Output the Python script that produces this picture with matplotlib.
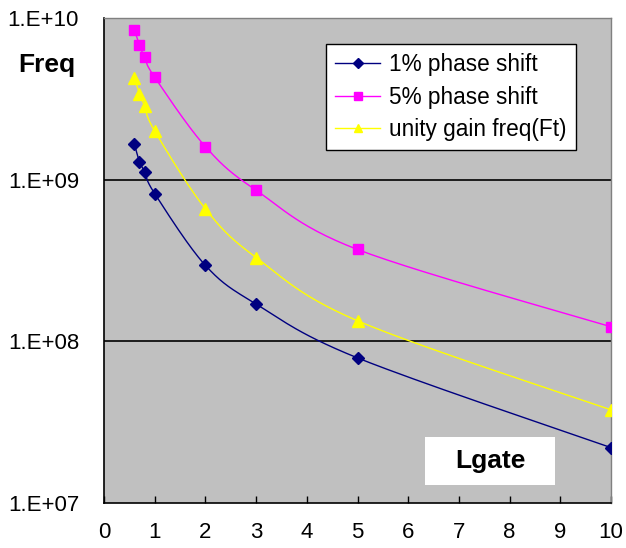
import numpy as np
import matplotlib
matplotlib.use("Agg")
import matplotlib.pyplot as plt
from matplotlib.patches import Rectangle

plt.rcParams['font.family'] = ['Liberation Sans', 'DejaVu Sans']

lgate = [0.6, 0.7, 0.8, 1, 2, 3, 5, 10]
phase1 = [1.66e9, 1.29e9, 1.12e9, 8.2e8, 2.95e8, 1.7e8, 7.9e7, 2.2e7]
phase5 = [8.4e9, 6.8e9, 5.7e9, 4.3e9, 1.6e9, 8.6e8, 3.7e8, 1.23e8]
ft = [4.25e9, 3.39e9, 2.86e9, 2.0e9, 6.6e8, 3.3e8, 1.34e8, 3.77e7]

series_names = ["1% phase shift", "5% phase shift", "unity gain freq(Ft)"]
y_ticks = [1e7, 1e8, 1e9, 1e10]
y_ticklabels = ["1.E+07", "1.E+08", "1.E+09", "1.E+10"]
x_ticks = list(range(0, 11))


def smooth(x, y, n=30):
    x = np.asarray(x, float)
    ly = np.log10(np.asarray(y, float))
    P = np.column_stack([x, ly])
    P = np.vstack([P[0], P, P[-1]])
    out = []
    for i in range(1, len(P) - 2):
        p0, p1, p2, p3 = P[i - 1], P[i], P[i + 1], P[i + 2]
        t = np.linspace(0, 1, n)[:, None]
        c = 0.5 * ((2 * p1) + (-p0 + p2) * t + (2 * p0 - 5 * p1 + 4 * p2 - p3) * t ** 2
                   + (-p0 + 3 * p1 - 3 * p2 + p3) * t ** 3)
        out.append(c)
    c = np.vstack(out)
    return c[:, 0], 10 ** c[:, 1]


fig = plt.figure(figsize=(6.26, 5.48), dpi=100)
ax = fig.add_axes([104 / 626, 45 / 548, 507 / 626, 485 / 548])
ax.set_facecolor('#C0C0C0')

styles = [
    (phase1, '#000080', 'D', 6.5),
    (phase5, '#FF00FF', 's', 7),
    (ft, '#FFFF00', '^', 8),
]
for (vals, col, mk, ms), name in zip(styles, series_names):
    sx, sy = smooth(lgate, vals)
    ax.plot(sx, sy, color=col, lw=1.0, zorder=3)
    ax.plot(lgate, vals, linestyle='none', marker=mk, color=col, ms=ms, zorder=4)
    ax.plot([], [], color=col, lw=1.0, marker=mk, ms=ms * 0.75, label=name)

ax.set_yscale('log')
ax.set_ylim(1e7, 1e10)
ax.set_xlim(0, 10)
ax.set_yticks(y_ticks)
ax.set_yticklabels(y_ticklabels)
ax.yaxis.set_minor_locator(matplotlib.ticker.NullLocator())
ax.set_xticks(x_ticks)
ax.set_xticklabels([str(v) for v in x_ticks])
ax.tick_params(axis='x', direction='in', length=5, width=1, labelsize=16, pad=14, color='black')
ax.tick_params(axis='y', length=0, labelsize=16, pad=18)

for yv in [1e8, 1e9]:
    ax.axhline(yv, color='black', lw=1.2, zorder=1)

for s in ['left', 'bottom']:
    ax.spines[s].set_color('black')
    ax.spines[s].set_linewidth(1.2)
for s in ['top', 'right']:
    ax.spines[s].set_color('#808080')
    ax.spines[s].set_linewidth(1.0)

leg = ax.legend(loc='upper left', bbox_to_anchor=(0.438, 0.946), borderaxespad=0,
                fontsize=16.3, frameon=True, fancybox=False, edgecolor='black',
                facecolor='white', framealpha=1, handlelength=2.0, handletextpad=0.4,
                labelspacing=0.42, borderpad=0.4)
leg.get_frame().set_linewidth(1.0)

ax.add_patch(Rectangle((0.633, 0.037), 0.257, 0.099, transform=ax.transAxes,
                       facecolor='white', edgecolor='none', zorder=5))
ax.text(0.7615, 0.0865, "Lgate", transform=ax.transAxes, ha='center', va='center',
        fontsize=19, fontweight='bold', zorder=6)

fig.text(47 / 626, 1 - 65 / 548, "Freq", ha='center', va='center', fontsize=19,
         fontweight='bold')

fig.savefig('out.png', dpi=100)
